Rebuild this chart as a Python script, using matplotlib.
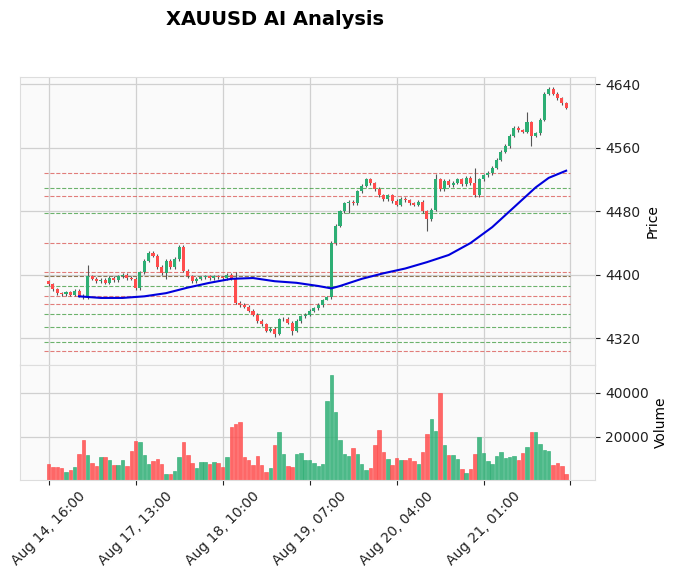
import numpy as np
import matplotlib
matplotlib.use("Agg")
import matplotlib.pyplot as plt

closes = [4388, 4382, 4377, 4376, 4378, 4375, 4380, 4374, 4372, 4398,
          4395, 4392, 4394, 4390, 4396, 4393, 4398, 4400, 4396, 4395,
          4383, 4403, 4418, 4428, 4424, 4410, 4402, 4418, 4410, 4420,
          4435, 4405, 4398, 4392, 4395, 4397, 4398, 4396, 4398, 4397,
          4396, 4400, 4395, 4365, 4362, 4360, 4355, 4350, 4342, 4338,
          4330, 4332, 4326, 4344, 4345, 4340, 4330, 4342, 4348, 4350,
          4355, 4358, 4362, 4368, 4372, 4440, 4462, 4480, 4490, 4492,
          4490, 4505, 4512, 4520, 4515, 4508, 4500, 4495, 4500, 4493,
          4488, 4496, 4494, 4490, 4488, 4492, 4480, 4470, 4482, 4520,
          4508, 4518, 4513, 4516, 4520, 4514, 4522, 4515, 4500, 4520,
          4525, 4528, 4535, 4545, 4555, 4562, 4575, 4585, 4582, 4580,
          4592, 4575, 4578, 4595, 4628, 4634, 4628, 4622, 4616, 4610]
first_open = 4392
big_wicks = {9: (4412, None), 27: (None, 4395), 43: (4404, None), 52: (None, 4322),
             56: (None, 4325), 64: (None, 4368), 69: (None, 4478), 87: (None, 4455),
             89: (4527, None), 98: (4535, None), 110: (4605, None), 111: (None, 4562)}

volume = [7730, 6210, 6210, 5760, 3940, 5000, 6210, 12120, 18630, 11670,
          8030, 6820, 10910, 10910, 9540, 7120, 7120, 9540, 6820, 13640,
          18180, 17730, 11670, 7580, 9090, 10000, 7730, 3180, 3180, 4550,
          10910, 17730, 11670, 8030, 5910, 8640, 8640, 7580, 8480, 8030,
          6210, 10910, 24540, 25910, 26820, 10760, 9540, 7120, 11210, 7120,
          4090, 5910, 16360, 22270, 12120, 6820, 6360, 12120, 12580, 9240,
          9240, 8030, 6820, 7580, 36360, 48180, 31360, 18630, 12120, 11360,
          14850, 12120, 7580, 4850, 5910, 16210, 23180, 13180, 9850, 7120,
          10300, 9540, 9540, 10300, 9090, 7580, 13030, 21360, 28180, 22730,
          40000, 16210, 11820, 11820, 10000, 5300, 3480, 5450, 12270, 19850,
          12580, 9090, 7580, 11210, 13180, 10450, 10910, 11360, 9540, 12580,
          15450, 22270, 22270, 16820, 14090, 13640, 7270, 8030, 6500, 3030]

ma_idx = [7, 12, 17, 22, 27, 32, 37, 42, 47, 52, 57, 62, 65, 67, 72, 77, 82, 87, 92, 97, 102, 107, 112, 115, 119]
ma_val = [4373, 4371, 4371, 4373, 4377, 4384, 4390, 4395, 4396, 4392, 4390, 4386, 4383, 4386, 4395,
          4402, 4408, 4416, 4425, 4440, 4460, 4485, 4510, 4522, 4531]

levels = [(4528, "r"), (4509, "g"), (4499, "r"), (4478, "g"), (4440, "r"), (4404, "r"),
          (4398, "k"), (4386, "g"), (4373, "r"), (4363, "r"), (4351, "g"), (4335, "g"),
          (4316, "g"), (4304, "r")]

tick_pos = [0, 20, 40, 60, 80, 100, 120]
tick_labels = ["Aug 14, 16:00", "Aug 17, 13:00", "Aug 18, 10:00", "Aug 19, 07:00",
               "Aug 20, 04:00", "Aug 21, 01:00", ""]

up_c, dn_c = "#2dae74", "#ff4d4d"
n = len(closes)
opens = [first_open] + closes[:-1]
x = np.arange(n)

fig = plt.figure(figsize=(6.78, 5.78), dpi=100)
ax = fig.add_axes([0.03, 0.369, 0.848, 0.498])
axv = fig.add_axes([0.03, 0.17, 0.848, 0.199], sharex=ax)
for a in (ax, axv):
    a.set_facecolor("#fafafa")
    a.grid(True, color="#d0d0d0", linewidth=0.9)
    a.set_axisbelow(True)
    for s in a.spines.values():
        s.set_color("#dddddd")
    a.yaxis.tick_right()
    a.yaxis.set_label_position("right")
    a.tick_params(colors="#222222", labelsize=10)

colors = []
for i in range(n):
    o, c = opens[i], closes[i]
    col = up_c if c >= o else dn_c
    colors.append(col)
    hi, lo = max(o, c) + 2, min(o, c) - 2
    if i in big_wicks:
        h2, l2 = big_wicks[i]
        hi = h2 if h2 else hi
        lo = l2 if l2 else lo
    ax.vlines(i, lo, hi, color="#555555", linewidth=0.8, zorder=2)
    ax.bar(i, max(abs(c - o), 0.8), bottom=min(o, c), width=0.7, color=col, zorder=3)

ax.plot(ma_idx, ma_val, color="#0000dd", linewidth=1.5, zorder=4)
cmap = {"r": "#d9534f", "g": "#3c9a3c", "k": "#6b4a1a"}
for lv, c in levels:
    ax.hlines(lv, -1, n, colors=cmap[c], linestyles="--", linewidth=0.8, alpha=0.75, zorder=1)

ax.set_ylim(4287, 4649)
ax.set_yticks([4320, 4400, 4480, 4560, 4640])
ax.set_ylabel("Price")
ax.tick_params(labelbottom=False, bottom=False)

axv.bar(x, volume, width=0.8, color=colors, edgecolor=colors, linewidth=0.5, alpha=0.85)
axv.set_ylim(450, 52700)
axv.set_yticks([20000, 40000])
axv.set_ylabel("Volume")
axv.set_xlim(-6.5, 125.7)
axv.set_xticks(tick_pos)
axv.set_xticklabels(tick_labels, rotation=45, ha="center")

fig.text(0.405, 0.967, "XAUUSD AI Analysis", ha="center", va="center", fontsize=14, fontweight="bold")
fig.savefig("out.png", dpi=100)
